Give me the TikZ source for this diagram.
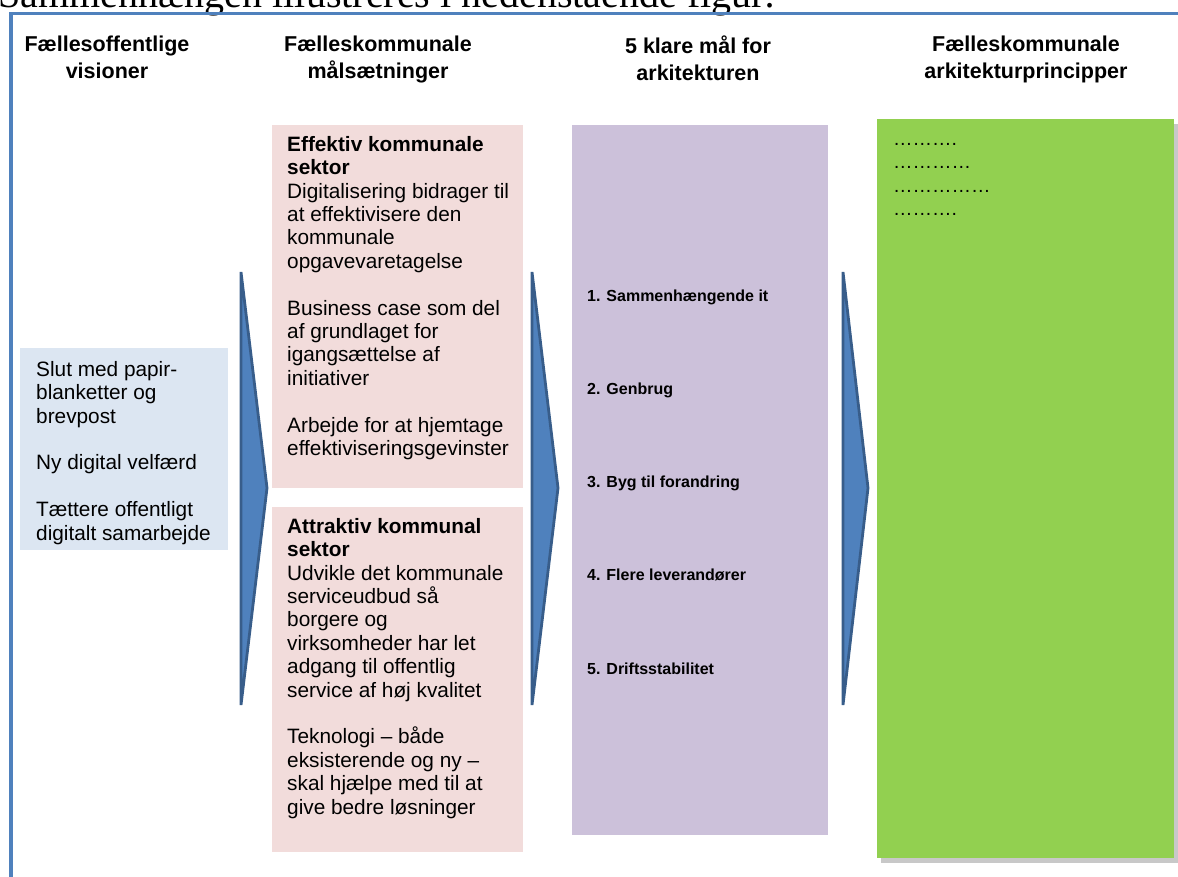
\documentclass[tikz,border=0pt]{standalone}
\usepackage{fontspec}
\setmainfont{Liberation Sans}
\newfontfamily\docfont{Liberation Serif}
\usepackage{xcolor}
\usetikzlibrary{positioning,calc}

\definecolor{framebl}{HTML}{4F81BD}
\definecolor{arrowfill}{HTML}{4F81BD}
\definecolor{arrowline}{HTML}{385D8A}
\definecolor{visbl}{HTML}{DCE6F2}
\definecolor{maalpink}{HTML}{F2DCDB}
\definecolor{klarelilla}{HTML}{CCC1DA}
\definecolor{princgreen}{HTML}{92D050}
\definecolor{shadowgray}{HTML}{C8C8C8}

\tikzset{
  box/.style={inner sep=0pt, anchor=north west},
  head/.style={font=\bfseries\fontsize{21.5}{26.5}\selectfont, align=center,
               anchor=north, inner sep=0pt},
  body/.style={font=\fontsize{20.8}{23.4}\selectfont, align=left, inner sep=0pt},
  goal/.style={font=\bfseries\fontsize{16}{18}\selectfont, anchor=base west,
               inner sep=0pt},
  dotrow/.style={font=\fontsize{19.5}{23.4}\selectfont, anchor=base west,
                 inner sep=0pt},
  chevron/.style={fill=arrowfill, draw=arrowline, line width=2.8pt},
}

\begin{document}
\begin{tikzpicture}[x=1pt,y=-1pt]
  \useasboundingbox (0,0) rectangle (1178,876);
  \clip (0,0) rectangle (1178,876);
  \def\gap{23.4pt}
  % --- text above the frame ---
  \node[anchor=base west, inner sep=0pt,
        font=\docfont\fontsize{40}{42}\selectfont] (caption) at (-2,7)
       {Sammenhængen illustreres i nedenstående figur:};
  \draw[framebl, line width=3.5pt] (11,880) -- (11,13.5) -- (1180,13.5);
  % --- headings ---
  \node[head] (h1) at (107,36) {Fællesoffentlige\\visioner};
  \node[head] (h2) at (378,36) {Fælleskommunale\\målsætninger};
  \node[head] (h3) at (698,36) {5 klare mål for\\arkitekturen};
  \node[head] (h4) at (1026,36) {Fælleskommunale\\arkitekturprincipper};
  % --- boxes ---
  \node[box, fill=visbl, minimum width=208pt, minimum height=202pt] (vis) at (20,348) {};
  \node[box, fill=maalpink, minimum width=251pt, minimum height=363pt] (maal1) at (272,125) {};
  \node[box, fill=maalpink, minimum width=251pt, minimum height=345pt] (maal2) at (272,507) {};
  \node[box, fill=klarelilla, minimum width=256pt, minimum height=710pt] (klare) at (572,125) {};
  \node[box, fill=shadowgray, minimum width=297pt, minimum height=739pt] (princshadow) at (881,124) {};
  \node[box, fill=princgreen, minimum width=297pt, minimum height=739pt] (princ) at (877,119) {};
  % --- arrows ---
  \draw[chevron] (241,272) -- (267,488) -- (241,705) -- cycle;
  \draw[chevron] (532,272) -- (558,488) -- (532,705) -- cycle;
  \draw[chevron] (843,272) -- (868,488) -- (843,705) -- cycle;
  % --- box texts ---
  \node[body, below right=13pt and 16pt of vis.north west] (vistxt)
       {Slut med papir-\\blanketter og\\brevpost\\[\gap]Ny digital velfærd\\[\gap]%
        Tættere offentligt\\digitalt samarbejde};
  \node[body, below right=11pt and 15pt of maal1.north west] (maal1txt)
       {\textbf{Effektiv kommunale}\\\textbf{sektor}\\Digitalisering bidrager til\\
        at effektivisere den\\kommunale\\opgavevaretagelse\\[\gap]%
        Business case som del\\af grundlaget for\\igangsættelse af\\initiativer\\[\gap]%
        Arbejde for at hjemtage\\effektiviseringsgevinster};
  \node[body, below right=11pt and 15pt of maal2.north west] (maal2txt)
       {\textbf{Attraktiv kommunal}\\\textbf{sektor}\\Udvikle det kommunale\\
        serviceudbud så\\borgere og\\virksomheder har let\\adgang til offentlig\\
        service af høj kvalitet\\[\gap]Teknologi – både\\eksisterende og ny –\\
        skal hjælpe med til at\\give bedre løsninger};
  \foreach \i/\t in {1/Sammenhængende it, 2/Genbrug, 3/Byg til forandring,
                     4/Flere leverandører, 5/Driftsstabilitet}
    \node[goal] (goal\i) at (587,{301+93.3*(\i-1)}) {\i. \t};
  \foreach \i/\d in {1/………., 2/…………, 3/……………, 4/……….}
    \node[dotrow] (dots\i) at (893,{145+23.6*(\i-1)}) {\d};
\end{tikzpicture}
\end{document}
